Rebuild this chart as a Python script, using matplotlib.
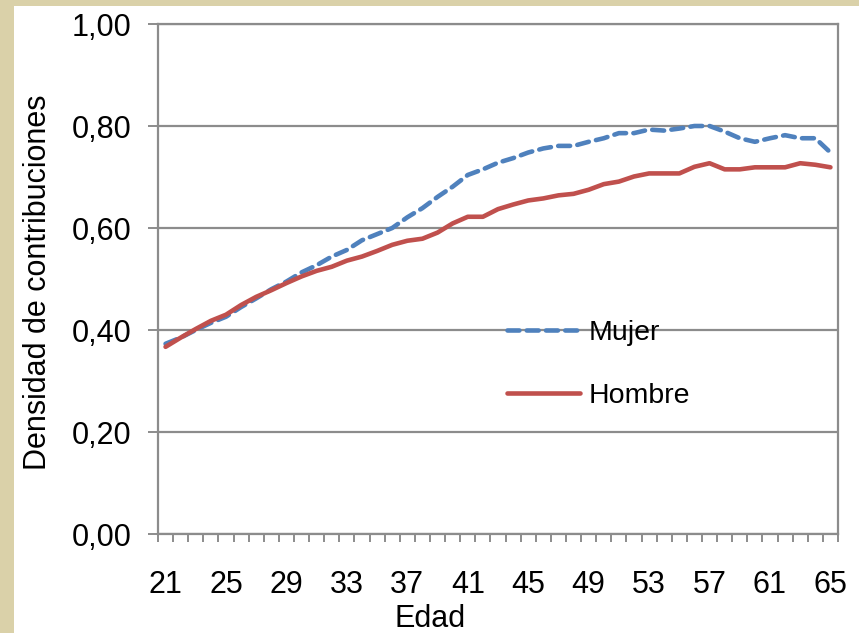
import matplotlib
matplotlib.use("Agg")
import matplotlib.pyplot as plt
import numpy as np
from matplotlib.patches import Rectangle

plt.rcParams['font.family'] = ['Liberation Sans', 'DejaVu Sans']

# Data
edad = list(range(21, 66))
mujer = [0.373, 0.385, 0.400, 0.414, 0.426, 0.445, 0.462, 0.480, 0.495, 0.513,
         0.527, 0.544, 0.557, 0.576, 0.588, 0.600, 0.621, 0.639, 0.661, 0.681,
         0.704, 0.715, 0.728, 0.737, 0.748, 0.756, 0.761, 0.761, 0.769, 0.776,
         0.786, 0.786, 0.793, 0.791, 0.795, 0.800, 0.800, 0.789, 0.776, 0.769,
         0.776, 0.782, 0.776, 0.776, 0.748]
hombre = [0.367, 0.385, 0.402, 0.418, 0.430, 0.449, 0.465, 0.478, 0.492, 0.505,
          0.516, 0.524, 0.536, 0.544, 0.555, 0.567, 0.575, 0.579, 0.591, 0.609,
          0.622, 0.622, 0.637, 0.646, 0.654, 0.658, 0.664, 0.667, 0.675, 0.686,
          0.691, 0.701, 0.707, 0.707, 0.707, 0.720, 0.727, 0.715, 0.715, 0.719,
          0.719, 0.719, 0.727, 0.724, 0.719]
y_ticks = [0.0, 0.2, 0.4, 0.6, 0.8, 1.0]
y_labels = ['0,00', '0,20', '0,40', '0,60', '0,80', '1,00']

W, H = 859, 633
fig = plt.figure(figsize=(W / 100, H / 100), dpi=100)
fig.patch.set_facecolor('#DAD1A9')
fig.patches.append(Rectangle((14 / W, 0), 1, (H - 6) / H, transform=fig.transFigure,
                             facecolor='white', edgecolor='none', zorder=-5))

ax = fig.add_axes([158 / W, (H - 534) / H, 680 / W, 510 / H])
grid_col = '#8C8C8C'

ax.plot(edad, mujer, color='#4F81BD', lw=3.3, linestyle=(0, (2.6, 1.6)),
        dash_capstyle='round', label='Mujer', zorder=3)
ax.plot(edad, hombre, color='#C0504D', lw=3.3, solid_capstyle='round',
        label='Hombre', zorder=3)

ax.set_xlim(20.5, 65.5)
ax.set_ylim(0, 1.0)

ax.set_yticks(y_ticks)
ax.set_yticklabels(y_labels)
ax.yaxis.grid(True, color=grid_col, lw=1.6)
ax.set_axisbelow(True)

ax.set_xticks(edad[::4])
ax.set_xticks(np.arange(20.5, 66, 1), minor=True)
ax.tick_params(axis='x', which='major', length=0, pad=26, labelsize=22)
ax.tick_params(axis='x', which='minor', length=6, width=1.4, color=grid_col)
ax.tick_params(axis='y', length=7, width=1.4, color=grid_col, pad=12, labelsize=22)

for s in ax.spines.values():
    s.set_color(grid_col)
    s.set_linewidth(1.6)

fig.text(430 / W, 1 - 619 / H, 'Edad', ha='center', va='center', fontsize=22)
fig.text(38 / W, 1 - 282 / H, 'Densidad de contribuciones', rotation=90,
         ha='center', va='center', fontsize=22)

ax.legend(loc='upper left', bbox_to_anchor=((507 - 158) / 680, (534 - 320) / 510),
          frameon=False, fontsize=20.5, handlelength=2.55, labelspacing=1.3,
          handletextpad=0.3, borderpad=0, borderaxespad=0)

fig.savefig('out.png', dpi=100, facecolor=fig.get_facecolor())
